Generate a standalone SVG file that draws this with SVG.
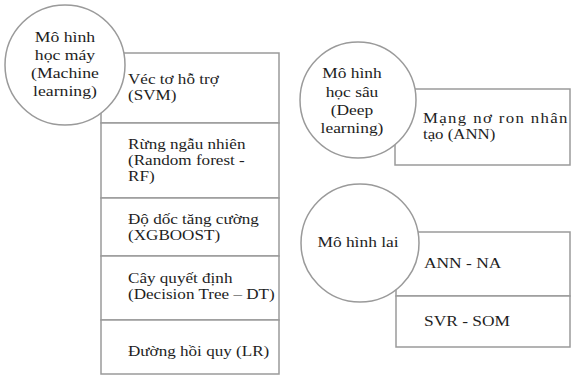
<svg xmlns="http://www.w3.org/2000/svg" width="572" height="380" viewBox="0 0 572 380">
<style>
.box{fill:#fff;stroke:#9a9a9a;stroke-width:1.5}
.circ{fill:#fff;stroke:#9a9a9a;stroke-width:1.5}
.c{text-anchor:middle}
</style>
<rect width="572" height="380" fill="#fff"/>
<g id="connectors"></g>
<g font-family="'Liberation Serif', 'Times New Roman', serif" font-size="15" fill="#1e1e1e">
<g id="ml-items">
<g id="svm"><rect class="box" x="101" y="53" width="178" height="70"/><g transform="matrix(1.14,0,0,1,-17.92,0)"><text x="128" y="84">Véc tơ hỗ trợ</text><text x="128" y="100">(SVM)</text></g></g>
<g id="rf"><rect class="box" x="101" y="123" width="178" height="75"/><g transform="matrix(1.14,0,0,1,-17.92,0)"><text x="128" y="149">Rừng ngẫu nhiên</text><text x="128" y="165">(Random forest -</text><text x="128" y="181">RF)</text></g></g>
<g id="xgb"><rect class="box" x="101" y="198" width="178" height="58"/><g transform="matrix(1.14,0,0,1,-17.92,0)"><text x="128" y="224">Độ dốc tăng cường</text><text x="128" y="240">(XGBOOST)</text></g></g>
<g id="dt"><rect class="box" x="101" y="256" width="178" height="64"/><g transform="matrix(1.14,0,0,1,-17.92,0)"><text x="128" y="283">Cây quyết định</text><text x="128" y="299">(Decision Tree – DT)</text></g></g>
<g id="lr"><rect class="box" x="101" y="320" width="178" height="54"/><g transform="matrix(1.14,0,0,1,-17.92,0)"><text x="128" y="356">Đường hồi quy (LR)</text></g></g>
</g>
<g id="ml"><circle class="circ" cx="65" cy="65" r="60"/><g class="c" transform="matrix(1.18,0,0,1,-11.7,0)">
<text x="65" y="42">Mô hình</text><text x="65" y="60">học máy</text><text x="65" y="78">(Machine</text><text x="65" y="96">learning)</text></g></g>
<g id="ann"><rect class="box" x="395" y="89" width="175" height="76"/><g transform="matrix(1.12,0,0,1,-50.76,0)"><text x="423" y="123" textLength="129">Mạng nơ ron nhân</text><text x="423" y="139">tạo (ANN)</text></g></g>
<g id="dl"><circle class="circ" cx="358" cy="100" r="58"/><g class="c" transform="matrix(1.16,0,0,1,-56.32,0)">
<text x="352" y="78">Mô hình</text><text x="352" y="97">học sâu</text><text x="352" y="115">(Deep</text><text x="352" y="133">learning)</text></g></g>
<g id="ann-na"><rect class="box" x="396" y="232" width="174" height="64"/><g transform="matrix(1.16,0,0,1,-67.84,0)"><text x="424" y="268">ANN - NA</text></g></g>
<g id="svr-som"><rect class="box" x="396" y="296" width="174" height="51"/><g transform="matrix(1.16,0,0,1,-67.84,0)"><text x="424" y="326">SVR - SOM</text></g></g>
<g id="hybrid"><circle class="circ" cx="360" cy="243" r="59"/><g class="c" transform="matrix(1.16,0,0,1,-57.28,0)"><text x="358" y="247">Mô hình lai</text></g></g>
</g>
</svg>
